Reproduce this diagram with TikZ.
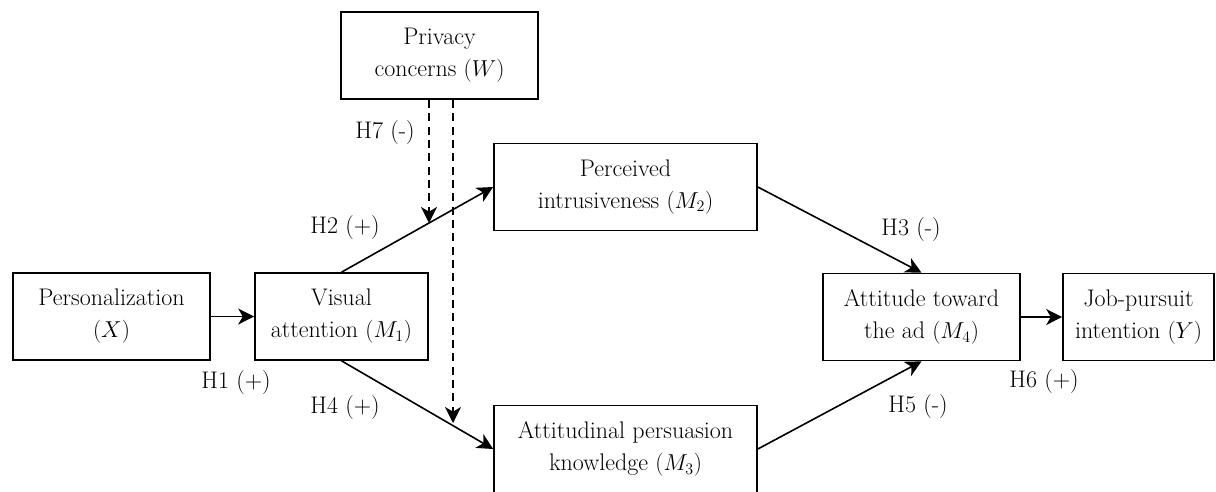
\documentclass[tikz,border=0pt]{standalone}
\usepackage{amsmath}
\usetikzlibrary{arrows.meta}
\tikzset{
  var/.style={draw, line width=1.2pt, align=center, inner sep=0pt,
    minimum height=65.3pt, font=\fontsize{18}{24}\selectfont},
  hyp/.style={font=\fontsize{18}{24}\selectfont},
  link/.style={line width=1.2pt, -{Stealth[length=12pt,width=12pt,inset=3.5pt]}},
  moder/.style={link, dash pattern=on 6pt off 4pt}
}
\begin{document}
\begin{tikzpicture}[x=0.75pt,y=-0.75pt]
  \clip (0,0) rectangle (1216,492);
  % variables
  \node[var, minimum width=147.8pt] (X) at (111.5,316.5) {Personalization\\$(X)$};
  \node[var, minimum width=129.8pt] (M1) at (341.5,316.5) {Visual\\attention $(M_1)$};
  \node[var, minimum width=147.8pt] (W) at (439.5,55.5) {Privacy\\concerns $(W)$};
  \node[var, minimum width=197.3pt] (M2) at (625.5,187) {Perceived\\intrusiveness $(M_2)$};
  \node[var, minimum width=197.3pt] (M3) at (625.5,449) {Attitudinal persuasion\\knowledge $(M_3)$};
  \node[var, minimum width=147.8pt] (M4) at (921.5,317) {Attitude toward\\the ad $(M_4)$};
  \node[var, minimum width=113.3pt] (Y) at (1138.5,317) {Job-pursuit\\intention $(Y)$};

  % paths
  \draw[link] (X) -- (M1);
  \draw[link] (M1.north) -- (M2.west);
  \draw[link] (M1.south) -- (M3.west);
  \draw[link] (M2.east) -- (M4.north);
  \draw[link] (M3.east) -- (M4.south);
  \draw[link] (M4) -- (Y);

  % moderation
  \coordinate (mod1) at (429,223);
  \coordinate (mod2) at (453,423);
  \draw[moder] (W.south -| mod1) -- (mod1);
  \draw[moder] (W.south -| mod2) -- (mod2);

  % hypotheses
  \node[hyp] (h1) at (236,383) {H1 (+)};
  \node[hyp] (h2) at (345,228) {H2 (+)};
  \node[hyp] (h3) at (911,230) {H3 (-)};
  \node[hyp] (h4) at (345,408) {H4 (+)};
  \node[hyp] (h5) at (918,407) {H5 (-)};
  \node[hyp] (h6) at (1044,382) {H6 (+)};
  \node[hyp] (h7) at (385,133) {H7 (-)};
\end{tikzpicture}
\end{document}
